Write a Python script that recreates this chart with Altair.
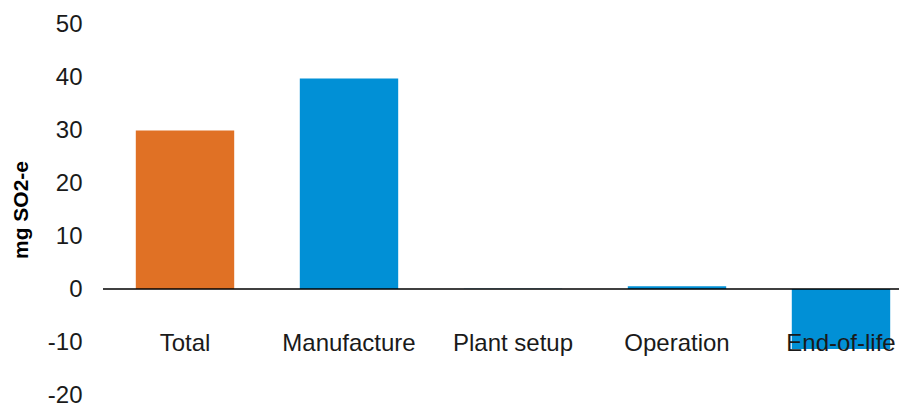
import altair as alt
import pandas as pd

categories = ["Total", "Manufacture", "Plant setup", "Operation", "End-of-life"]
values = [29.9, 39.7, 0.05, 0.5, -11.3]
groups = ["total", "stage", "stage", "stage", "stage"]
y_ticks = [-20, -10, 0, 10, 20, 30, 40, 50]

df = pd.DataFrame({"category": categories, "value": values, "group": groups})

FONT = "Liberation Sans"

bars = alt.Chart(df).mark_bar().encode(
    x=alt.X("category:N", sort=categories,
            scale=alt.Scale(paddingInner=0.4, paddingOuter=0.2, range=[0, 820]),
            axis=alt.Axis(title=None, domain=False, ticks=False, labelAngle=0,
                          labelFontSize=24, labelFont=FONT, labelColor="#1a1a1a",
                          labelPadding=2, offset=-66, zindex=1)),
    y=alt.Y("value:Q", scale=alt.Scale(domain=[-20, 50], nice=False),
            axis=alt.Axis(title="mg SO2-e", values=y_ticks, grid=False, domain=False,
                          ticks=False, labelFontSize=24, labelFont=FONT,
                          labelColor="#1a1a1a", labelPadding=21,
                          labelExpr="'' + datum.value",
                          titleFont=FONT, titleFontSize=21, titleFontWeight="bold",
                          titleColor="#000000", titlePadding=20,
                          titleBaseline="alphabetic")),
    color=alt.Color("group:N", scale=alt.Scale(domain=["total", "stage"],
                                               range=["#E07125", "#0190D6"]),
                    legend=None),
)

zero = alt.Chart(pd.DataFrame({"y": [0]})).mark_rule(color="#000000", strokeWidth=1.5).encode(
    y="y:Q"
)

chart = alt.layer(bars, zero).properties(
    width=796, height=371,
    padding={"left": 95, "top": 16, "right": 0, "bottom": 10},
    autosize=alt.AutoSizeParams(type="none"),
).configure_view(stroke=None)

chart.save("out.html", embed_options={"renderer": "svg", "actions": False})
